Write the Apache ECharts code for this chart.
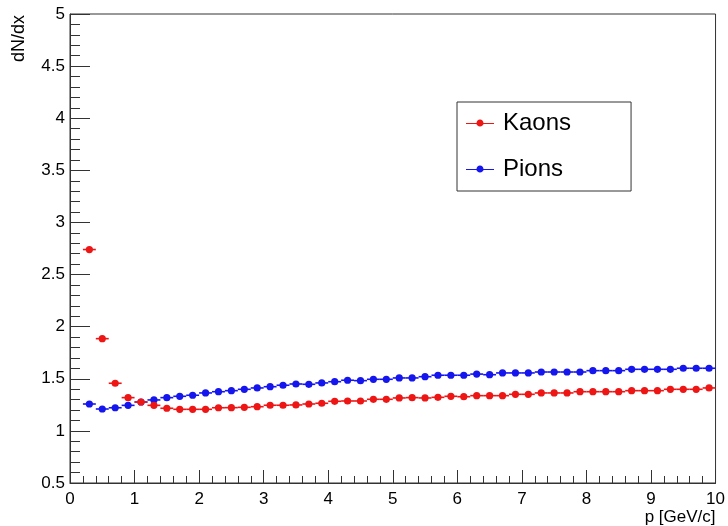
<!DOCTYPE html>
<html>
<head>
<meta charset="utf-8">
<script src="https://cdn.jsdelivr.net/npm/echarts@6/dist/echarts.min.js"></script>
<style>html,body{margin:0;padding:0;background:#fff;}#c{width:728px;height:526px;}</style>
</head>
<body>
<div id="c"></div>
<script>
// bin centres (p, GeV/c), bin half-width 0.1
const pCenters = [0.3,0.5,0.7,0.9,1.1,1.3,1.5,1.7,1.9,2.1,2.3,2.5,2.7,2.9,3.1,3.3,3.5,3.7,3.9,4.1,4.3,4.5,4.7,4.9,5.1,5.3,5.5,5.7,5.9,6.1,6.3,6.5,6.7,6.9,7.1,7.3,7.5,7.7,7.9,8.1,8.3,8.5,8.7,8.9,9.1,9.3,9.5,9.7,9.9];
const binHalfWidth = 0.1;
const kaons = [2.74,1.885,1.457,1.319,1.277,1.245,1.217,1.207,1.207,1.207,1.222,1.223,1.226,1.232,1.246,1.246,1.249,1.258,1.265,1.284,1.287,1.287,1.303,1.303,1.316,1.319,1.316,1.322,1.332,1.328,1.338,1.338,1.338,1.351,1.351,1.364,1.364,1.364,1.376,1.376,1.376,1.376,1.386,1.386,1.386,1.399,1.399,1.399,1.412];
const pions = [1.258,1.21,1.222,1.245,1.277,1.297,1.319,1.332,1.342,1.364,1.376,1.386,1.399,1.412,1.424,1.438,1.450,1.447,1.460,1.472,1.486,1.482,1.495,1.495,1.508,1.508,1.520,1.534,1.534,1.534,1.545,1.539,1.556,1.556,1.556,1.565,1.565,1.565,1.565,1.578,1.578,1.578,1.591,1.591,1.591,1.591,1.601,1.601,1.601];
const seriesNames = ['Kaons','Pions'];
const xTitle = 'p [GeV/c]';
const yTitle = 'dN/dx';

const FONT = "'Liberation Sans', Arial, Helvetica, sans-serif";
const chart = echarts.init(document.getElementById('c'), null, {renderer:'canvas'});

function mkRender(color){
  return function(params, api){
    const x = api.value(0), y = api.value(1);
    const a = api.coord([x - binHalfWidth, y]);
    const b = api.coord([x + binHalfWidth, y]);
    const c = api.coord([x, y]);
    return {
      type:'group',
      children:[
        {type:'line', shape:{x1:a[0],y1:a[1],x2:b[0],y2:b[1]}, style:{stroke:color, lineWidth:1.6}},
        {type:'circle', shape:{cx:c[0],cy:c[1],r:3.6}, style:{fill:color}}
      ]
    };
  };
}
const iconPath = 'path://M0,3.5 L10.5,3.5 C10.5,1.6 12.1,0 14,0 C15.9,0 17.5,1.6 17.5,3.5 L28,3.5 L28,4.5 L17.5,4.5 C17.5,5.4 15.9,7 14,7 C12.1,7 10.5,5.4 10.5,4.5 L0,4.5 Z';

const colors = ['#ee1515','#1515ee'];
const dataK = pCenters.map((p,i)=>[p,kaons[i]]);
const dataP = pCenters.map((p,i)=>[p,pions[i]]);

chart.setOption({
  animation:false,
  textStyle:{fontFamily:FONT},
  grid:{left:70, right:11, top:14, bottom:43, show:true, borderColor:'#333', borderWidth:1, backgroundColor:'transparent'},
  legend:{
    orient:'vertical', left:457, top:102,
    data:seriesNames.map((n,i)=>({name:n, icon:iconPath, itemStyle:{color:colors[i]}})),
    itemWidth:28, itemHeight:7, itemGap:20,
    padding:[8,60,9,9],
    borderColor:'#333', borderWidth:1, backgroundColor:'#fff',
    textStyle:{fontSize:24, color:'#000', fontFamily:FONT, lineHeight:26, padding:[0,0,0,4]}
  },
  xAxis:{
    type:'value', min:0, max:10, interval:1,
    name:xTitle, nameLocation:'end', nameGap:0,
    nameTextStyle:{fontSize:17, color:'#000', align:'right', verticalAlign:'top', padding:[26,0,0,0], fontFamily:FONT},
    axisLine:{show:true, lineStyle:{color:'#333', width:1}},
    axisTick:{show:true, inside:true, length:13, lineStyle:{color:'#333'}},
    minorTick:{show:true, splitNumber:5, length:7, lineStyle:{color:'#333'}},
    axisLabel:{fontSize:17, color:'#000', margin:8, fontFamily:FONT},
    splitLine:{show:false}
  },
  yAxis:{
    type:'value', min:0.5, max:5, interval:0.5,
    axisLine:{show:true, lineStyle:{color:'#333', width:1}},
    axisTick:{show:true, inside:true, length:20, lineStyle:{color:'#333'}},
    minorTick:{show:true, splitNumber:5, length:10, lineStyle:{color:'#333'}},
    axisLabel:{fontSize:17, color:'#000', margin:5, fontFamily:FONT},
    splitLine:{show:false}
  },
  graphic:[{
    type:'text', x:19, y:15, rotation:Math.PI/2,
    style:{text:yTitle, fill:'#000', font:'18px '+FONT, align:'right', verticalAlign:'middle'}
  }],
  series:[
    {name:seriesNames[0], type:'custom', data:dataK, encode:{x:0,y:1}, itemStyle:{color:colors[0]}, renderItem:mkRender(colors[0]), z:3},
    {name:seriesNames[1], type:'custom', data:dataP, encode:{x:0,y:1}, itemStyle:{color:colors[1]}, renderItem:mkRender(colors[1]), z:2}
  ]
});
</script>
</body>
</html>
